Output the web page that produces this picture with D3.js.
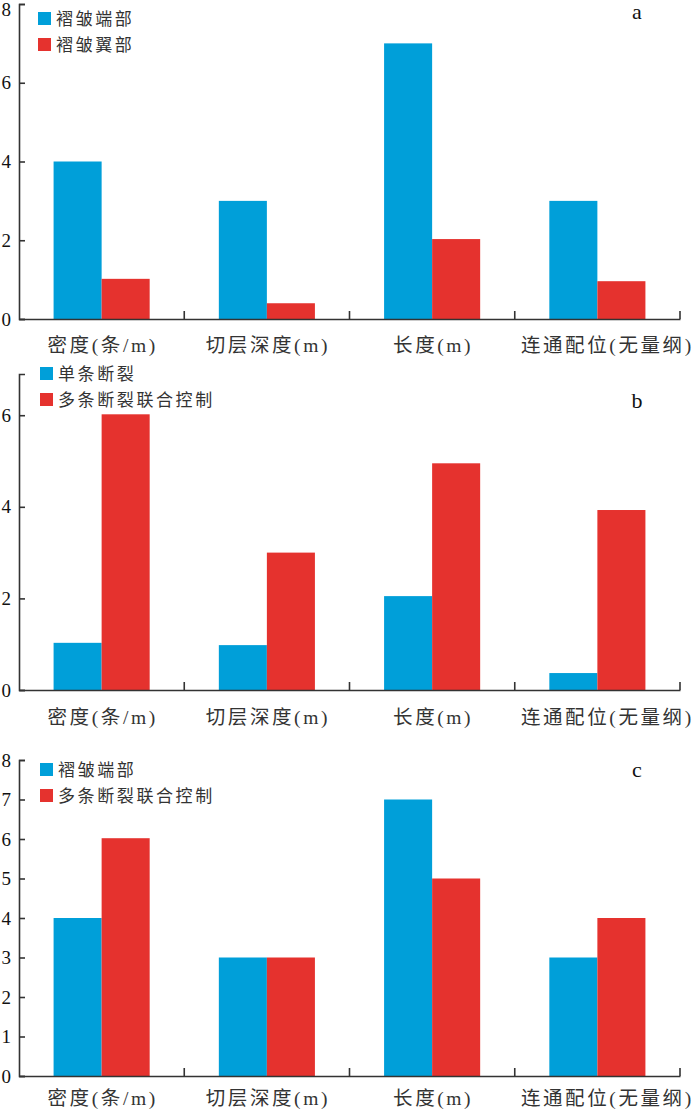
<!DOCTYPE html>
<meta charset="utf-8">
<script src="https://cdn.jsdelivr.net/npm/d3@7"></script>
<style>
body { margin: 0; background: #fff; }
text { font-family: "Liberation Serif", "Noto Sans CJK SC", serif; fill: #222; }
.axis path, .axis line { stroke: #333; stroke-width: 1.6px; }
.cat { font-size: 19.5px; letter-spacing: 2.6px; fill: #333; }
.leg { font-size: 17px; letter-spacing: 2.6px; fill: #333; }
.tick text { font-size: 19px; fill: #111; }
.tag { font-size: 22px; fill: #111; }
</style>
<body>
<script>
// categories on the x axis
var categories = ["密度(条/m)", "切层深度(m)", "长度(m)", "连通配位(无量纲)"]

// panel a
var seriesA = ["褶皱端部", "褶皱翼部"]
var foldEndA = [4.0, 3.0, 7.0, 3.0]
var foldLimbA = [1.02, 0.4, 2.03, 0.96]
var ticksA = [0, 2, 4, 6, 8]
var maxA = 8

// panel b
var seriesB = ["单条断裂", "多条断裂联合控制"]
var singleB = [1.03, 0.98, 2.05, 0.37]
var multiB = [6.02, 3.0, 4.95, 3.93]
var ticksB = [0, 2, 4, 6]
var maxB = 6.9

// panel c
var seriesC = ["褶皱端部", "多条断裂联合控制"]
var foldEndC = [4.0, 3.0, 7.0, 3.0]
var multiC = [6.02, 3.0, 5.0, 4.0]
var ticksC = [0, 1, 2, 3, 4, 5, 6, 7, 8]
var maxC = 8

var colors = ["#009fd9", "#e5322e"]

var W = 700, H = 1112
var left = 19, right = 680

var panels = [
    {tag: "a", series: seriesA, values: [foldEndA, foldLimbA], ticks: ticksA, max: maxA,
     top: 4, bottom: 319, legY: 12, legX: 38, tagY: 19, catGap: 33},
    {tag: "b", series: seriesB, values: [singleB, multiB], ticks: ticksB, max: maxB,
     top: 374, bottom: 690, legY: 367, legX: 40, tagY: 408, catGap: 34},
    {tag: "c", series: seriesC, values: [foldEndC, multiC], ticks: ticksC, max: maxC,
     top: 760, bottom: 1076, legY: 763, legX: 40, tagY: 777, catGap: 29}
]

var svg = d3.select("body").append("svg").attr("width", W).attr("height", H)

var x0 = d3.scaleBand().domain(categories).range([left, right])

panels.forEach(function(p) {
    var g = svg.append("g")
    var y = d3.scaleLinear().domain([0, p.max]).range([p.bottom, p.top])
    var x1 = d3.scaleBand().domain(p.series).range([0, x0.bandwidth()]).paddingOuter(0.72)

    // bars
    p.series.forEach(function(s, si) {
        g.append("g").selectAll("rect").data(categories).enter().append("rect")
            .attr("x", function(d) { return x0(d) + x1(s) })
            .attr("width", x1.bandwidth())
            .attr("y", function(d, i) { return y(p.values[si][i]) })
            .attr("height", function(d, i) { return y(0) - y(p.values[si][i]) })
            .attr("fill", colors[si])
    })

    // y axis, ticks pointing inward
    var ya = g.append("g").attr("class", "axis").attr("transform", "translate(" + left + ",0)")
        .call(d3.axisLeft(y).tickValues(p.ticks).tickFormat(d3.format("d"))
            .tickSize(-6).tickSizeOuter(-6).tickPadding(8))
    // keep the top label inside the page
    ya.selectAll(".tick text").attr("dy", function(d) { return y(d) < 12 ? "0.62em" : "0.32em" })

    // x axis
    var xa = g.append("g").attr("class", "axis").attr("transform", "translate(0," + p.bottom + ")")
        .call(d3.axisBottom(x0).tickSize(0).tickSizeOuter(0).tickFormat(""))
    xa.selectAll(".bnd").data(categories).enter().append("line").attr("class", "bnd")
        .attr("x1", function(d) { return x0(d) + x0.bandwidth() })
        .attr("x2", function(d) { return x0(d) + x0.bandwidth() })
        .attr("y1", 0).attr("y2", -8)

    g.selectAll(".cat").data(categories).enter().append("text").attr("class", "cat")
        .attr("x", function(d, i) { return x0(d) + x0.bandwidth() / 2 + (i == 3 ? 10 : 1) })
        .attr("y", p.bottom + p.catGap)
        .attr("text-anchor", "middle")
        .text(function(d) { return d })

    // legend
    var leg = g.append("g").attr("transform", "translate(" + p.legX + "," + p.legY + ")")
    leg.selectAll("rect").data(p.series).enter().append("rect")
        .attr("x", 0).attr("y", function(d, i) { return i * 26 })
        .attr("width", 13).attr("height", 13)
        .attr("fill", function(d, i) { return colors[i] })
    leg.selectAll("text").data(p.series).enter().append("text").attr("class", "leg")
        .attr("x", 18).attr("y", function(d, i) { return i * 26 + 13 })
        .text(function(d) { return d })

    g.append("text").attr("class", "tag").attr("x", 637).attr("y", p.tagY)
        .attr("text-anchor", "middle").text(p.tag)
})
</script>
</body>
